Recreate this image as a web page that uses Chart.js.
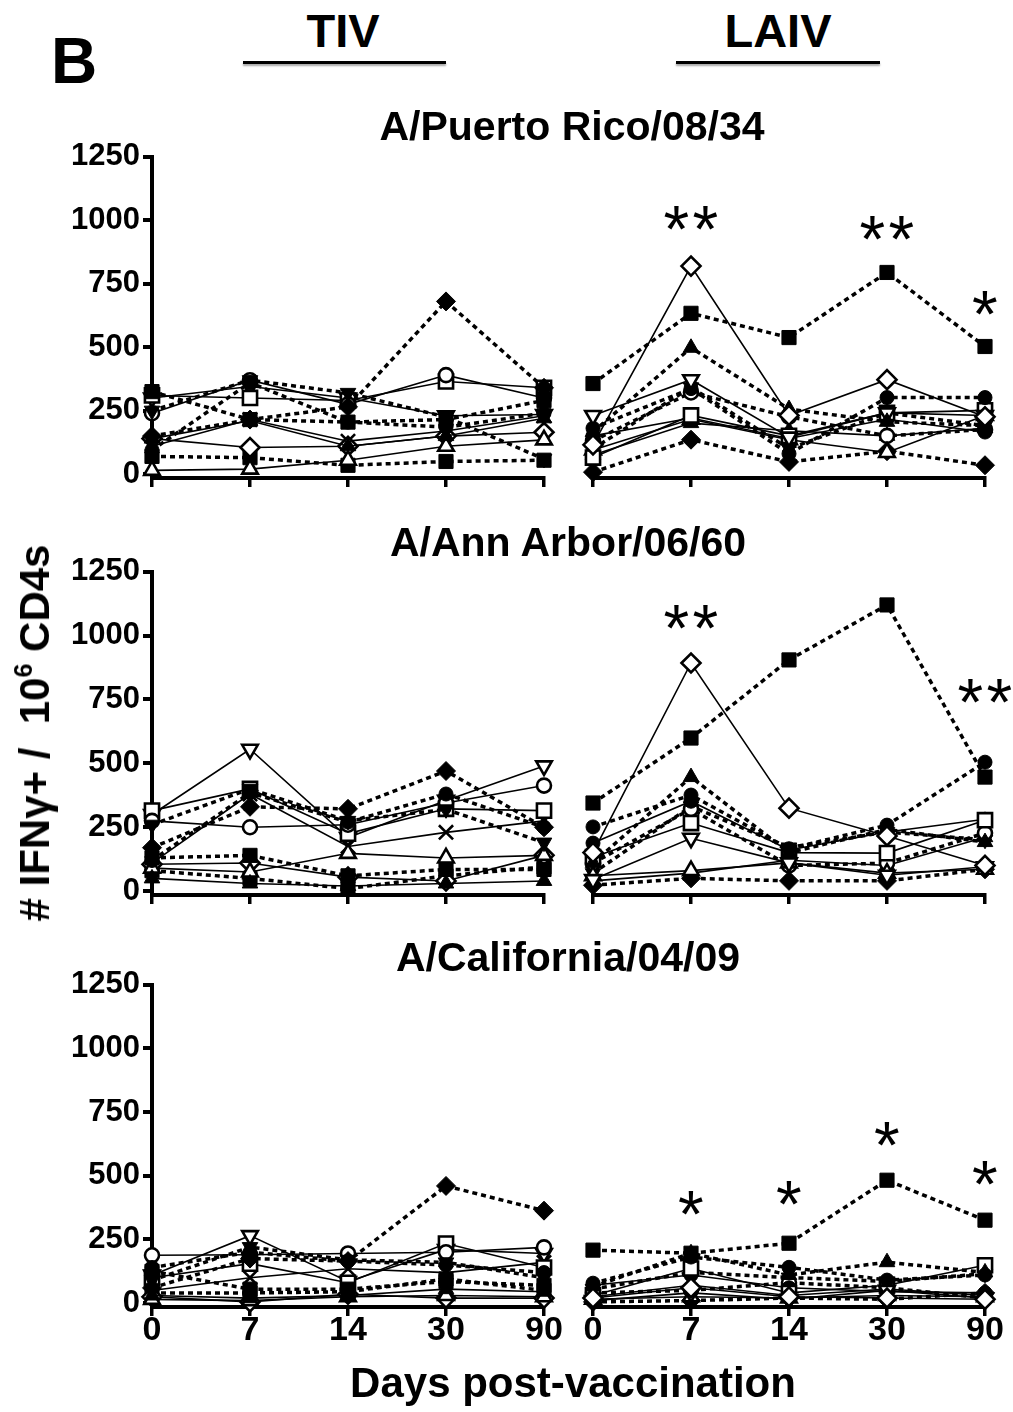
<!DOCTYPE html>
<html>
<head>
<meta charset="utf-8">
<script src="https://cdn.jsdelivr.net/npm/chart.js@4.4.1/dist/chart.umd.min.js"></script>
<style>
  body { margin: 0; background: #fff; }
  #fig { position: relative; width: 1013px; height: 1412px; overflow: hidden;
         font-family: "Liberation Sans", Arial, Helvetica, sans-serif; font-weight: bold; color: #000; }
  #fig canvas { position: absolute; }
  .txt { position: absolute; white-space: nowrap; line-height: 1; }
  .ctr { transform: translateX(-50%); }
  .bar { position: absolute; height: 3px; background: #000; box-shadow: 0 2px 2px rgba(0,0,0,0.35); }
</style>
</head>
<body>
<div id="fig">
  <canvas id="prTiv"></canvas>
  <canvas id="prLaiv"></canvas>
  <canvas id="aaTiv"></canvas>
  <canvas id="aaLaiv"></canvas>
  <canvas id="caTiv"></canvas>
  <canvas id="caLaiv"></canvas>

  <div class="txt" style="left:51px;top:29px;font-size:64px">B</div>
  <div class="txt ctr" style="left:343px;top:7px;font-size:47px">TIV</div>
  <div class="txt ctr" style="left:778px;top:7px;font-size:47px">LAIV</div>
  <div class="bar" style="left:243px;top:61px;width:203px"></div>
  <div class="bar" style="left:676px;top:61px;width:204px"></div>

  <div class="txt ctr" style="left:572px;top:106px;font-size:41px">A/Puerto Rico/08/34</div>
  <div class="txt ctr" style="left:568px;top:522px;font-size:41px">A/Ann Arbor/06/60</div>
  <div class="txt ctr" style="left:568px;top:937px;font-size:41px">A/California/04/09</div>

  <div class="txt ctr" style="left:573px;top:1362px;font-size:42px">Days post-vaccination</div>
  <div class="txt" style="left:35px;top:733px;font-size:42px;transform:translate(-50%,-50%) rotate(-90deg)">#&nbsp;IFNγ+&nbsp;/&nbsp;&nbsp;10<span style="font-size:25px;position:relative;top:-17px">6</span>&nbsp;CD4s</div>
</div>

<script>
// days after vaccination (categorical, equally spaced)
const days = ['0', '7', '14', '30', '90'];
const yTicks = [0, 250, 500, 750, 1000, 1250];

// one row per subject, values at each day
const prTiv = [
  [325, 215, 205, 215, 290],
  [95, 360, 205, 185, 240],
  [140, 210, 110, 150, 220],
  [250, 370, 320, 225, 60],
  [150, 215, 265, 680, 340],
  [240, 370, 275, 390, 300],
  [310, 300, 290, 365, 340],
  [15, 20, 55, 110, 135],
  [300, 345, 300, 230, 235],
  [140, 105, 110, 150, 165],
  [110, 215, 130, 170, 230],
  [70, 65, 35, 50, 55]
];
const prLaiv = [
  [355, 630, 535, 790, 500],
  [115, 815, 230, 370, 225],
  [165, 495, 255, 205, 190],
  [230, 370, 145, 240, 230],
  [180, 335, 80, 300, 300],
  [65, 230, 150, 240, 250],
  [150, 220, 140, 215, 165],
  [95, 215, 135, 85, 230],
  [8, 135, 48, 90, 35],
  [130, 320, 225, 150, 175],
  [100, 340, 100, 240, 190],
  [75, 200, 170, 150, 180]
];
const aaTiv = [
  [130, 140, 60, 85, 85],
  [120, 385, 270, 380, 250],
  [50, 30, 20, 30, 40],
  [260, 400, 275, 320, 190],
  [170, 330, 322, 470, 250],
  [275, 250, 260, 345, 413],
  [315, 400, 225, 322, 315],
  [90, 75, 148, 130, 140],
  [300, 555, 210, 355, 490],
  [105, 110, 55, 40, 140],
  [110, 380, 175, 230, 275],
  [80, 50, 10, 60, 95]
];
const aaLaiv = [
  [343, 596, 900, 1114, 444],
  [150, 888, 323, 215, 100],
  [110, 444, 150, 240, 191],
  [45, 206, 110, 62, 95],
  [250, 374, 165, 257, 502],
  [132, 265, 150, 148, 276],
  [187, 350, 160, 230, 280],
  [60, 80, 110, 70, 85],
  [23, 50, 40, 40, 85],
  [109, 320, 100, 109, 226],
  [70, 330, 170, 230, 200],
  [40, 70, 120, 100, 210]
];
const caTiv = [
  [125, 55, 55, 85, 70],
  [140, 200, 165, 150, 120],
  [30, 20, 30, 55, 45],
  [90, 220, 170, 160, 100],
  [60, 175, 165, 460, 363],
  [188, 190, 195, 200, 219],
  [100, 155, 80, 234, 140],
  [15, 10, 25, 30, 25],
  [110, 265, 85, 210, 195],
  [25, 5, 35, 20, 20],
  [50, 100, 135, 120, 160],
  [40, 40, 45, 95, 50]
];
const caLaiv = [
  [207, 195, 234, 480, 324],
  [20, 60, 25, 20, 15],
  [65, 195, 110, 160, 120],
  [10, 40, 15, 50, 20],
  [78, 180, 140, 90, 110],
  [30, 135, 40, 70, 148],
  [70, 110, 60, 45, 40],
  [15, 25, 20, 30, 25],
  [5, 10, 20, 15, 40],
  [40, 50, 80, 60, 20],
  [55, 120, 100, 85, 115],
  [25, 70, 30, 55, 30]
];

// significance marks: [day index, height, number of asterisks]
const prStars = [[1, 1003, 2], [3, 964, 2], [4, 670, 1]];
const aaStars = [[1, 1067, 2], [4, 779, 2]];
const caStars = [[1, 390, 1], [2, 430, 1], [3, 660, 1], [4, 508, 1]];

// subject symbols: [shape, filled, dashed line]
const tivSubjects = [
  ['square', true, true], ['circle', true, true], ['triangle', true, false],
  ['invtri', true, true], ['diamond', true, true], ['circle', false, false],
  ['square', false, false], ['triangle', false, false], ['invtri', false, false],
  ['diamond', false, false], ['cross', false, false], ['square', true, true]
];
const laivSubjects = [
  ['square', true, true], ['diamond', false, false], ['triangle', true, true],
  ['invtri', false, false], ['circle', true, true], ['square', false, false],
  ['circle', true, false], ['triangle', false, false], ['diamond', true, true],
  ['circle', false, true], ['invtri', true, true], ['triangle', true, false]
];

const FONT = '"Liberation Sans", Arial, Helvetica, sans-serif';

const shapes = {
  square:   { pointStyle: 'rect', rotation: 0, radius: 10 },
  circle:   { pointStyle: 'circle', rotation: 0, radius: 7 },
  triangle: { pointStyle: 'triangle', rotation: 0, radius: 9 },
  invtri:   { pointStyle: 'triangle', rotation: 180, radius: 9 },
  diamond:  { pointStyle: 'rectRot', rotation: 0, radius: 9.5 },
  cross:    { pointStyle: 'crossRot', rotation: 0, radius: 10 }
};

function buildSets(rows, subjects) {
  return rows.map((vals, i) => {
    const [shape, filled, dashed] = subjects[i];
    const s = shapes[shape];
    return {
      data: vals,
      borderColor: '#000',
      borderWidth: dashed ? 3.5 : 1.6,
      borderDash: dashed ? [5, 4] : [],
      pointStyle: s.pointStyle,
      pointRotation: s.rotation,
      pointRadius: s.radius,
      pointBackgroundColor: filled ? '#000' : '#fff',
      pointBorderColor: '#000',
      pointBorderWidth: filled ? 1 : 2.6,
      tension: 0,
      fill: false,
      clip: false
    };
  });
}

// asterisks above the time points
const starPlugin = {
  id: 'stars',
  afterDatasetsDraw(chart, args, opts) {
    const marks = opts.marks || [];
    const ctx = chart.ctx;
    ctx.save();
    ctx.font = '66px ' + FONT;
    ctx.fillStyle = '#000';
    ctx.textAlign = 'left';
    ctx.textBaseline = 'alphabetic';
    const m = ctx.measureText('*');
    const dx = (m.actualBoundingBoxLeft - m.actualBoundingBoxRight) / 2;
    const dy = (m.actualBoundingBoxAscent - m.actualBoundingBoxDescent) / 2;
    marks.forEach(([i, v, n]) => {
      const cx = chart.scales.x.getPixelForValue(i);
      const cy = chart.scales.y.getPixelForValue(v);
      for (let k = 0; k < n; k++) {
        ctx.fillText('*', cx + (k - (n - 1) / 2) * 29 + dx, cy + dy);
      }
    });
    ctx.restore();
  }
};

// plot rows: top of axis (1250) and bottom of axis
const rowTop = [155, 570, 983];
const rowBottom = [478, 895, 1307];

function panel(id, row, rows, subjects, isTiv, marks) {
  const last = row === 2;
  const xh = last ? 60 : 30;
  const padTop = 20;
  const canvas = document.getElementById(id);
  const w = isTiv ? 570 : 443;
  const h = padTop + (rowBottom[row] - rowTop[row]) + xh;
  canvas.width = w;
  canvas.height = h;
  canvas.style.left = (isTiv ? 0 : 570) + 'px';
  canvas.style.top = (rowTop[row] - padTop) + 'px';

  return new Chart(canvas, {
    type: 'line',
    data: { labels: days, datasets: buildSets(rows, subjects) },
    plugins: [starPlugin],
    options: {
      responsive: false,
      animation: false,
      events: [],
      layout: { padding: { top: padTop, bottom: 0, left: isTiv ? 0 : 23, right: isTiv ? 26 : 28 } },
      plugins: {
        legend: { display: false },
        tooltip: { enabled: false },
        stars: { marks: marks }
      },
      scales: {
        x: {
          offset: false,
          grid: { drawOnChartArea: false, drawTicks: true, tickLength: 9, lineWidth: 3.5, color: '#000' },
          border: { display: true, width: 4, color: '#000' },
          ticks: {
            display: last,
            color: '#000',
            font: { family: FONT, size: 34, weight: 'bold', lineHeight: 1 },
            padding: -2,
            maxRotation: 0,
            autoSkip: false
          },
          afterFit: s => { s.height = xh; }
        },
        y: {
          display: isTiv,
          min: -15,
          max: 1250,
          afterBuildTicks: s => { s.ticks = yTicks.map(v => ({ value: v })); },
          grid: { drawOnChartArea: false, tickLength: 9, lineWidth: 4, color: '#000' },
          border: { display: true, width: 4, color: '#000' },
          ticks: {
            color: '#000',
            font: { family: FONT, size: 31, weight: 'bold' },
            padding: 3,
            callback: v => String(v)
          },
          afterFit: s => { s.width = isTiv ? 152 : 0; }
        }
      }
    }
  });
}

panel('prTiv', 0, prTiv, tivSubjects, true, []);
panel('prLaiv', 0, prLaiv, laivSubjects, false, prStars);
panel('aaTiv', 1, aaTiv, tivSubjects, true, []);
panel('aaLaiv', 1, aaLaiv, laivSubjects, false, aaStars);
panel('caTiv', 2, caTiv, tivSubjects, true, []);
panel('caLaiv', 2, caLaiv, laivSubjects, false, caStars);
</script>
</body>
</html>
